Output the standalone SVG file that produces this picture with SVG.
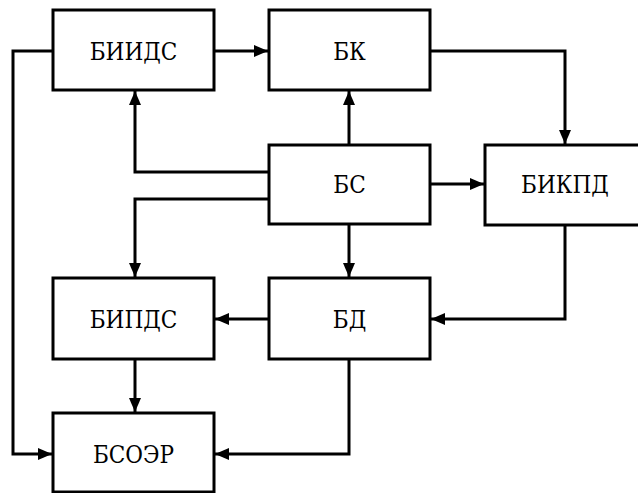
<svg xmlns="http://www.w3.org/2000/svg" width="638" height="493" viewBox="0 0 638 493">
<style>
.box{fill:#fff;stroke:#000;stroke-width:3}
.lbl{font-family:'DejaVu Serif Condensed','DejaVu Serif',serif;font-stretch:condensed;font-size:24px;text-anchor:middle;fill:#000}
.c{fill:none;stroke:#000;stroke-width:3}
</style>
<defs>
<marker id="ah" viewBox="0 0 14 12" refX="14" refY="6" markerWidth="14" markerHeight="12" markerUnits="userSpaceOnUse" orient="auto">
<path d="M0,0 L14,6 L0,12 z" fill="#000"/>
</marker>
</defs>
<rect width="638" height="493" fill="#fff"/>
<g id="connectors">
<path class="c" d="M214,51 H268" marker-end="url(#ah)"/>
<path class="c" d="M430,51 H565 V144" marker-end="url(#ah)"/>
<path class="c" d="M349,145 V91" marker-end="url(#ah)"/>
<path class="c" d="M269,172 H135 V91" marker-end="url(#ah)"/>
<path class="c" d="M269,199 H135 V277" marker-end="url(#ah)"/>
<path class="c" d="M430,184 H484" marker-end="url(#ah)"/>
<path class="c" d="M349,224 V277" marker-end="url(#ah)"/>
<path class="c" d="M565,225 V319 H431" marker-end="url(#ah)"/>
<path class="c" d="M269,319 H215" marker-end="url(#ah)"/>
<path class="c" d="M135,359 V412" marker-end="url(#ah)"/>
<path class="c" d="M349,359 V454 H215" marker-end="url(#ah)"/>
<path class="c" d="M53,51 H13 V454 H52" marker-end="url(#ah)"/>
</g>
<g id="biids"><rect class="box" x="53" y="10" width="161" height="80"/><text class="lbl" x="133.5" y="60">БИИДС</text></g>
<g id="bk"><rect class="box" x="269" y="10" width="161" height="80"/><text class="lbl" x="349.5" y="60">БК</text></g>
<g id="bs"><rect class="box" x="269" y="145" width="161" height="79"/><text class="lbl" x="349.5" y="193">БС</text></g>
<g id="bikpd"><rect class="box" x="485" y="145" width="161" height="80"/><text class="lbl" x="565" y="193">БИКПД</text></g>
<g id="bipds"><rect class="box" x="53" y="278" width="161" height="81"/><text class="lbl" x="133.5" y="328">БИПДС</text></g>
<g id="bd"><rect class="box" x="269" y="278" width="161" height="81"/><text class="lbl" x="349.5" y="328">БД</text></g>
<g id="bsoer"><rect class="box" x="53" y="413" width="161" height="79"/><text class="lbl" x="133.5" y="463">БСОЭР</text></g>
</svg>
